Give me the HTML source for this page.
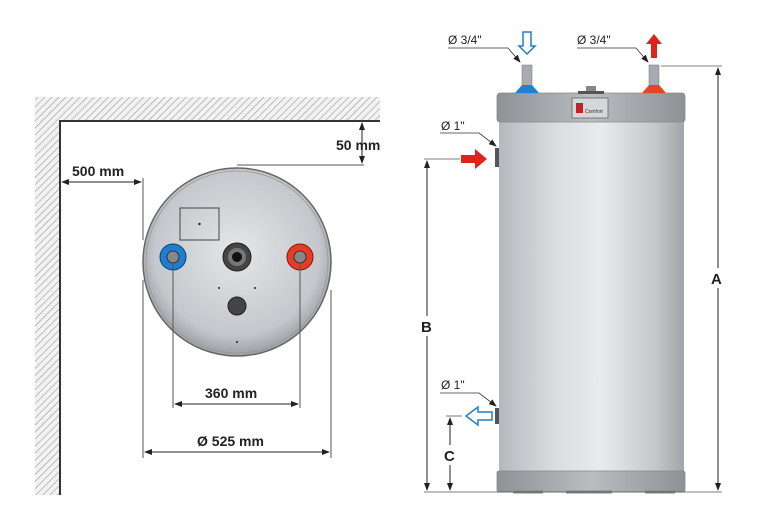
<!DOCTYPE html>
<html><head><style>body{margin:0;background:#fff}svg{display:block}text{font-family:"Liberation Sans",sans-serif}</style></head><body>
<svg width="761" height="522" viewBox="0 0 761 522" xmlns="http://www.w3.org/2000/svg">
<defs>
<pattern id="h" width="5" height="5" patternUnits="userSpaceOnUse" patternTransform="rotate(45)"><rect width="5" height="5" fill="#f2f2f2"/><line x1="0" y1="0" x2="0" y2="5" stroke="#999" stroke-width="1.2"/></pattern>
<radialGradient id="disc" cx="0.5" cy="0.45" r="0.55"><stop offset="0" stop-color="#e4e6e9"/><stop offset="0.8" stop-color="#c4c7cb"/><stop offset="1" stop-color="#9a9da2"/></radialGradient>
<linearGradient id="body" x1="0" x2="1"><stop offset="0" stop-color="#b5b9bd"/><stop offset="0.3" stop-color="#d9dde0"/><stop offset="0.55" stop-color="#e8ebed"/><stop offset="0.85" stop-color="#c3c7ca"/><stop offset="1" stop-color="#a1a5a9"/></linearGradient>
<linearGradient id="cap" x1="0" x2="1"><stop offset="0" stop-color="#8e9296"/><stop offset="0.5" stop-color="#b9bdc0"/><stop offset="1" stop-color="#8e9296"/></linearGradient>
<marker id="a" markerWidth="8" markerHeight="8" refX="7" refY="4" orient="auto-start-reverse" markerUnits="userSpaceOnUse"><path d="M0,1 L8,4 L0,7z" fill="#222"/></marker>
</defs>
<!-- wall -->
<path d="M35,97 H380 V121 H60 V495 H35Z" fill="url(#h)"/>
<path d="M60,495 V121 H380" fill="none" stroke="#333" stroke-width="2"/>
<!-- disc -->
<circle cx="237" cy="262" r="94" fill="url(#disc)" stroke="#666" stroke-width="1.5"/>
<circle cx="237" cy="262" r="91" fill="none" stroke="#999" stroke-width="0.8"/>
<rect x="180" y="208" width="39" height="32" fill="none" stroke="#444" stroke-width="1"/>
<circle cx="199.5" cy="224" r="1.2" fill="#222"/>
<circle cx="173" cy="257" r="13" fill="#1e7fd0" stroke="#0d3e70"/>
<circle cx="173" cy="257" r="6" fill="#888" stroke="#333"/>
<circle cx="300" cy="257" r="13" fill="#e83a25" stroke="#7a1a10"/>
<circle cx="300" cy="257" r="6" fill="#888" stroke="#333"/>
<circle cx="237" cy="257" r="14" fill="#444" stroke="#222"/>
<circle cx="237" cy="257" r="9" fill="#777"/>
<circle cx="237" cy="257" r="5" fill="#111"/>
<circle cx="237" cy="306" r="9" fill="#444" stroke="#222"/>
<circle cx="219" cy="288" r="1" fill="#222"/><circle cx="255" cy="288" r="1" fill="#222"/><circle cx="237" cy="342" r="1" fill="#222"/>
<!-- dims left -->
<g stroke="#555" stroke-width="1" fill="none">
<line x1="143" y1="178" x2="143" y2="240"/><line x1="143" y1="280" x2="143" y2="458"/>
<line x1="331" y1="290" x2="331" y2="458"/>
<line x1="173" y1="262" x2="173" y2="408"/><line x1="300" y1="262" x2="300" y2="408"/>
<line x1="237" y1="165" x2="364" y2="165"/>
</g>
<g stroke="#222" stroke-width="1" fill="none">
<line x1="62" y1="182" x2="141" y2="182" marker-start="url(#a)" marker-end="url(#a)"/>
<line x1="362" y1="123" x2="362" y2="163" marker-start="url(#a)" marker-end="url(#a)"/>
<line x1="175" y1="404" x2="298" y2="404" marker-start="url(#a)" marker-end="url(#a)"/>
<line x1="145" y1="452" x2="329" y2="452" marker-start="url(#a)" marker-end="url(#a)"/>
</g>
<g font-size="14" font-weight="bold" fill="#222">
<text x="72" y="176">500 mm</text>
<text x="336" y="150">50 mm</text>
<text x="205" y="398">360 mm</text>
<text x="197" y="446">Ø 525 mm</text>
</g>
<!-- tank -->
<rect x="499" y="118" width="185" height="355" fill="url(#body)"/>
<rect x="497" y="93" width="188" height="29" rx="3" fill="url(#cap)" stroke="#888" stroke-width="0.8"/>
<rect x="497" y="471" width="188" height="21" rx="2" fill="url(#cap)" stroke="#888" stroke-width="0.8"/>
<rect x="572" y="98" width="36" height="20" fill="#d5d7d9" stroke="#666" stroke-width="0.8"/>
<path d="M576,103 h7 v10 h-7z" fill="#c62020"/><text x="585" y="113" font-size="5" fill="#333">Comfort</text>
<rect x="586" y="86" width="10" height="7" fill="#888"/><rect x="578" y="91" width="26" height="3" fill="#555"/>
<rect x="522" y="65" width="10" height="22" fill="#a7abaf" stroke="#777" stroke-width="0.5"/>
<path d="M515,93 L522,85 H532 L539,93Z" fill="#1e82d2"/>
<rect x="649" y="65" width="10" height="22" fill="#a7abaf" stroke="#777" stroke-width="0.5"/>
<path d="M642,93 L649,85 H659 L666,93Z" fill="#e84528"/>
<rect x="495" y="148" width="4" height="19" fill="#555"/>
<rect x="495" y="408" width="4" height="16" fill="#555"/>
<path d="M513,492 h30 M566,492 h46 M645,492 h30" stroke="#888" stroke-width="3"/>
<!-- arrows -->
<path d="M523,32 v14 h-4 l8,8 l8,-8 h-4 v-14z" fill="#fff" stroke="#1e7fc8" stroke-width="1.5"/>
<path d="M651,58 v-14 h-5 l8,-10 l8,10 h-5 v14z" fill="#e0221d"/>
<path d="M461,155 h14 v-6 l12,10 l-12,10 v-6 h-14z" fill="#e0221d"/>
<path d="M492,412 h-14 v-5 l-12,9 l12,9 v-5 h14z" fill="#fff" stroke="#1e7fc8" stroke-width="1.5"/>
<!-- leaders -->
<g stroke="#333" stroke-width="0.8" fill="none">
<path d="M448,48 H508 L520,62" marker-end="url(#a)"/>
<path d="M577,48 H636 L648,62" marker-end="url(#a)"/>
<path d="M440,133 H479 L496,146" marker-end="url(#a)"/>
<path d="M440,393 H479 L496,406" marker-end="url(#a)"/>
</g>
<g stroke="#555" stroke-width="0.8">
<line x1="661" y1="66" x2="722" y2="66"/><line x1="424" y1="159" x2="460" y2="159"/>
<line x1="446" y1="416" x2="462" y2="416"/><line x1="424" y1="492" x2="722" y2="492"/>
</g>
<g stroke="#222" stroke-width="1">
<line x1="718" y1="68" x2="718" y2="490" marker-start="url(#a)" marker-end="url(#a)"/>
<line x1="427" y1="161" x2="427" y2="490" marker-start="url(#a)" marker-end="url(#a)"/>
<line x1="450" y1="418" x2="450" y2="490" marker-start="url(#a)" marker-end="url(#a)"/>
</g>
<rect x="708" y="268" width="20" height="20" fill="#fff"/><text x="711" y="284" font-size="15" font-weight="bold" fill="#222">A</text>
<rect x="418" y="316" width="18" height="20" fill="#fff"/><text x="421" y="332" font-size="15" font-weight="bold" fill="#222">B</text>
<rect x="441" y="445" width="18" height="20" fill="#fff"/><text x="444" y="461" font-size="15" font-weight="bold" fill="#222">C</text>
<g font-size="12" fill="#222">
<text x="448" y="44">Ø 3/4"</text><text x="577" y="44">Ø 3/4"</text>
<text x="441" y="130">Ø 1"</text><text x="441" y="389">Ø 1"</text>
</g>
</svg>
</body></html>
